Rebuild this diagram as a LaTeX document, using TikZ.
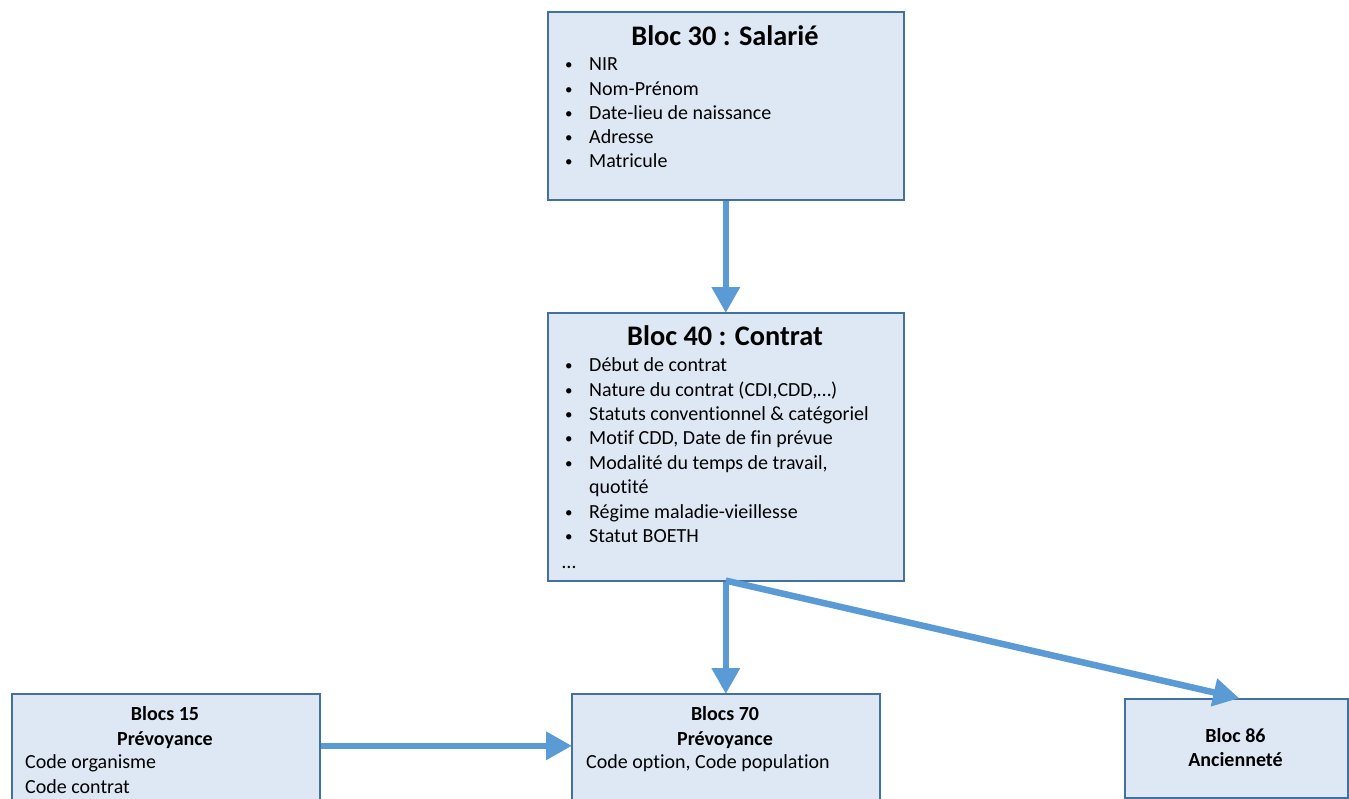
\documentclass[tikz,border=0pt]{standalone}
\usepackage{fontspec}
\setmainfont{Carlito}[Ligatures={NoCommon}]
\usetikzlibrary{arrows.meta}
\definecolor{boxfill}{HTML}{DEE8F4}
\definecolor{boxline}{HTML}{41719C}
\definecolor{arrowblue}{HTML}{5B9BD5}
\tikzset{
  blocbox/.style={draw=boxline, line width=1.6pt, fill=boxfill, rectangle, inner sep=0pt, anchor=north west},
  arr/.style={draw=arrowblue, line width=6.5pt, -{Triangle[length=26pt,width=27pt]}, shorten >=-1pt},
  body/.style={font=\fontsize{20}{24}\selectfont, inner sep=0pt, anchor=base west},
  title/.style={font=\fontsize{28.3}{32}\selectfont\bfseries, inner sep=0pt, anchor=base},
  smallb/.style={font=\fontsize{20}{24}\selectfont\bfseries, inner sep=0pt, anchor=base},
}
\newcommand{\bul}{\makebox[24pt][l]{\raisebox{1pt}{\fontsize{15}{15}\selectfont\textbullet}}}
\begin{document}
\begin{tikzpicture}[x=1pt,y=-1pt]
\useasboundingbox (0,0) rectangle (1349,798);
% boxes
\node[blocbox, minimum width=356pt, minimum height=188pt] (b30) at (547,11) {};
\node[blocbox, minimum width=356pt, minimum height=268pt] (b40) at (547,312) {};
\node[blocbox, minimum width=308pt, minimum height=108pt] (b15) at (11,693) {};
\node[blocbox, minimum width=308pt, minimum height=108pt] (b70) at (571,693) {};
\node[blocbox, minimum width=223pt, minimum height=99pt] (b86) at (1124,698) {};
% texts bloc 30
\node[title] (t30) at (725,45) {Bloc 30 : Salarié};
\foreach \t [count=\i from 0] in {NIR,Nom-Prénom,Date-lieu de naissance,Adresse,Matricule}
  \node[body] (l30-\i) at (565,70.7+24.3*\i) {\bul\t};
% texts bloc 40
\node[title] (t40) at (725,345) {Bloc 40 : Contrat};
\foreach \t [count=\i from 0] in {Début de contrat,{Nature du contrat (CDI,CDD,…)},Statuts conventionnel \& catégoriel,{Motif CDD, Date de fin prévue},{Modalité du temps de travail,}}
  \node[body] (l40-\i) at (565,371.7+24.4*\i) {\bul\t};
\node[body] (l40-q) at (589,371.7+24.4*5) {quotité};
\node[body] (l40-r) at (565,371.7+24.4*6) {\bul Régime maladie-vieillesse};
\node[body] (l40-s) at (565,371.7+24.4*7) {\bul Statut BOETH};
\node[body] (d40) at (562,568) {…};
% bloc 15
\node[smallb] (t15a) at (165,720.7) {Blocs 15};
\node[smallb] (t15b) at (165,745) {Prévoyance};
\node[body] (l15a) at (25,768.5) {Code organisme};
\node[body] (l15b) at (25,793) {Code contrat};
% bloc 70
\node[smallb] (t70a) at (725,720.7) {Blocs 70};
\node[smallb] (t70b) at (725,745) {Prévoyance};
\node[body] (l70) at (586,768.5) {Code option, Code population};
% bloc 86
\node[smallb] (t86a) at (1235.5,742) {Bloc 86};
\node[smallb] (t86b) at (1235.5,766) {Ancienneté};
% arrows
\draw[arr] (b30.south) -- (b40.north);
\draw[arr] (b40.south) -- (b70.north);
\draw[arr] ([yshift=1pt]b40.south) -- ([xshift=2pt]b86.north);
\draw[arr] ([yshift=2pt]b15.east) -- ([yshift=2pt]b70.west);
\end{tikzpicture}
\end{document}
